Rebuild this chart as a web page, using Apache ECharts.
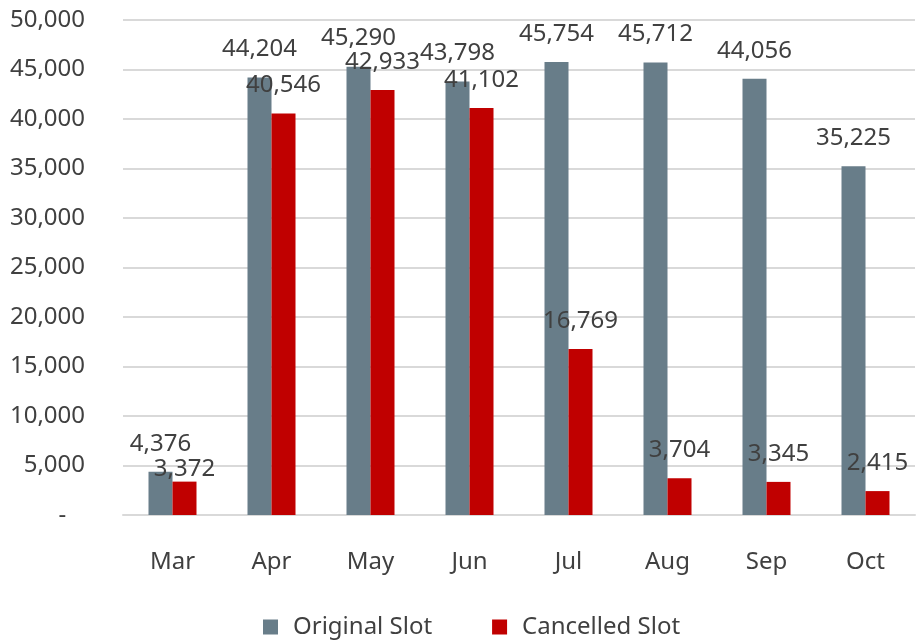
<!DOCTYPE html>
<html>
<head>
<meta charset="utf-8">
<script src="https://cdn.jsdelivr.net/npm/echarts@6/dist/echarts.min.js"></script>
<style>
  html, body { margin: 0; padding: 0; background: #fff; }
  #chart { width: 916px; height: 640px; }
</style>
</head>
<body>
<div id="chart"></div>
<script>
  const months = ['Mar', 'Apr', 'May', 'Jun', 'Jul', 'Aug', 'Sep', 'Oct'];
  const originalSlot = [4376, 44204, 45290, 43798, 45754, 45712, 44056, 35225];
  const cancelledSlot = [3372, 40546, 42933, 41102, 16769, 3704, 3345, 2415];

  const fmt = (v) => v.toLocaleString('en-US');
  const textColor = '#404040';
  const font = 'Noto Sans';

  // the Mar cancelled label sits lower in the original, right on its bar
  const cancelledData = cancelledSlot.map((v, i) =>
    i === 0 ? { value: v, label: { distance: 0 } } : v
  );

  const barLabel = {
    show: true,
    position: 'top',
    distance: 16,
    fontSize: 24,
    color: textColor,
    formatter: (p) => fmt(p.value),
  };

  const chart = echarts.init(document.getElementById('chart'));
  chart.setOption({
    animation: false,
    textStyle: { fontFamily: font },
    grid: { left: 123, right: 1, top: 20, bottom: 125 },
    legend: {
      bottom: -4,
      left: 258,
      itemWidth: 15,
      itemHeight: 15,
      itemGap: 60,
      icon: 'rect',
      textStyle: { fontSize: 24, color: textColor, fontFamily: font, padding: [0, 0, 0, 10] },
      data: ['Original Slot', 'Cancelled Slot'],
    },
    xAxis: {
      type: 'category',
      data: months,
      axisTick: { show: false },
      axisLine: { lineStyle: { color: '#d9d9d9', width: 2 } },
      axisLabel: { fontSize: 24, color: textColor, margin: 35 },
    },
    yAxis: {
      type: 'value',
      min: 0,
      max: 50000,
      interval: 5000,
      axisLine: { show: false },
      axisTick: { show: false },
      splitLine: { lineStyle: { color: '#d9d9d9', width: 2 } },
      axisLabel: {
        fontSize: 24,
        color: textColor,
        margin: 38,
        formatter: (v) => (v === 0 ? '-   ' : fmt(v)),
      },
    },
    series: [
      {
        name: 'Original Slot',
        type: 'bar',
        data: originalSlot,
        barWidth: 24,
        barGap: '0%',
        itemStyle: { color: '#687D89' },
        label: barLabel,
      },
      {
        name: 'Cancelled Slot',
        type: 'bar',
        data: cancelledData,
        barWidth: 24,
        barGap: '0%',
        itemStyle: { color: '#C00000' },
        label: barLabel,
      },
    ],
  });
</script>
</body>
</html>
